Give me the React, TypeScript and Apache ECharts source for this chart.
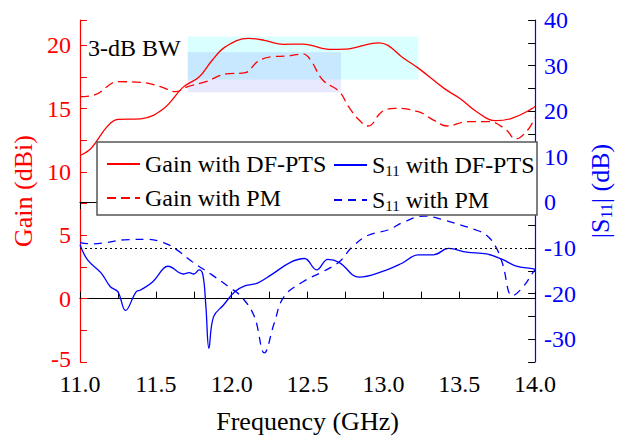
import React, { useEffect, useRef } from "react";
import * as echarts from "echarts";

const freqGainDF = [11.0, 11.075, 11.18, 11.25, 11.4, 11.55, 11.68, 11.785, 11.87, 11.96, 12.11, 12.215, 12.34, 12.47, 12.645, 12.75, 12.97, 13.03, 13.12, 13.23, 13.4, 13.505, 13.61, 13.74, 13.85, 13.98, 14.0];
const gainDF = [11.3, 11.9, 13.6, 14.15, 14.2, 15.0, 16.7, 17.5, 18.8, 19.9, 20.55, 20.4, 20.08, 20.1, 19.68, 19.7, 20.2, 20.0, 19.1, 18.2, 16.6, 15.8, 14.8, 14.05, 14.25, 15.0, 15.2];

const freqGainPM = [11.0, 11.1, 11.25, 11.4, 11.53, 11.63, 11.71, 11.83, 11.96, 12.09, 12.17, 12.26, 12.37, 12.47, 12.52, 12.6, 12.71, 12.77, 12.84, 12.9, 12.99, 13.075, 13.23, 13.33, 13.42, 13.55, 13.7, 13.81, 13.87, 13.95, 14.0];
const gainPM = [15.95, 16.1, 17.13, 17.08, 16.74, 16.34, 16.74, 17.13, 17.74, 17.84, 18.71, 19.1, 19.16, 19.32, 18.84, 17.26, 16.34, 15.16, 14.1, 13.63, 14.76, 15.03, 14.76, 14.1, 13.63, 13.97, 13.97, 13.32, 12.6, 13.3, 14.3];

const freqS11DF = [11.0, 11.05, 11.14, 11.2, 11.25, 11.3, 11.37, 11.4, 11.48, 11.55, 11.58, 11.68, 11.72, 11.75, 11.785, 11.81, 11.83, 11.85, 11.88, 11.946, 12.02, 12.086, 12.17, 12.26, 12.39, 12.48, 12.56, 12.634, 12.71, 12.84, 12.99, 13.12, 13.23, 13.33, 13.43, 13.55, 13.68, 13.785, 13.87, 13.99, 14.0];
const s11DF = [-9.3, -12.6, -15.5, -18.5, -19.6, -23.7, -19.6, -19.2, -17.4, -14.5, -14.0, -15.7, -15.4, -15.7, -14.8, -15.9, -22.9, -32.0, -25.1, -22.5, -19.6, -18.3, -17.7, -15.9, -13.1, -12.3, -14.8, -12.5, -13.2, -16.4, -15.2, -13.4, -11.5, -11.5, -10.1, -10.9, -11.3, -12.5, -13.9, -14.6, -14.7];

const freqS11PM = [11.0, 11.075, 11.18, 11.29, 11.44, 11.55, 11.634, 11.74, 11.87, 11.98, 12.065, 12.15, 12.215, 12.28, 12.344, 12.47, 12.6, 12.71, 12.796, 12.9, 13.03, 13.14, 13.27, 13.4, 13.61, 13.68, 13.74, 13.785, 13.85, 13.914, 13.99, 14.0];
const s11PM = [-8.8, -9.1, -8.8, -8.2, -8.1, -8.8, -10.3, -13.0, -15.9, -18.5, -20.7, -25.1, -33.0, -26.5, -20.7, -17.4, -15.2, -13.0, -9.7, -7.2, -6.05, -4.2, -3.0, -3.9, -6.05, -7.2, -9.7, -13.4, -20.5, -18.8, -15.2, -14.8];

// 3-dB bandwidth boxes: [fStart, fEnd, gainLow, gainHigh]
const bwDF = [11.71, 13.23, 17.3, 20.7];
const bwPM = [11.71, 12.72, 16.3, 19.45];
const s11Threshold = -10;

const seriesNames = ["Gain with DF-PTS", "Gain with PM", "S11 with DF-PTS", "S11 with PM"];

const zip = (xs: number[], ys: number[]) => xs.map((x, i) => [x, ys[i]]);

const FONT = "'Liberation Serif', 'Times New Roman', Times, serif";

export default function App() {
  const ref = useRef<HTMLDivElement>(null);
  useEffect(() => {
    if (!ref.current) return;
    const chart = echarts.init(ref.current, null, { renderer: "svg" });
    const legendText = {
      fontFamily: FONT,
      fontSize: 24,
      color: "#000",
      lineHeight: 26,
      rich: {
        sub: { fontFamily: FONT, fontSize: 15, color: "#000", verticalAlign: "bottom", lineHeight: 26, padding: [12, 0, 0, 0] },
      },
    };
    const fmt = (name: string) => (name.startsWith("S11") ? "S{sub|11}" + name.slice(3) : name);
    const legendBase = {
      orient: "vertical",
      top: 146,
      itemWidth: 33,
      itemHeight: 10,
      itemGap: 8,
      textStyle: legendText,
      formatter: fmt,
      selectedMode: false,
      itemStyle: { opacity: 0 },
      z: 20,
    };
    chart.setOption({
      animation: false,
      backgroundColor: "#fff",
      textStyle: { fontFamily: FONT },
      grid: { left: 80, right: 77, top: 20, bottom: 83 },
      xAxis: [
        {
          type: "value",
          min: 11,
          max: 14,
          interval: 0.25,
          position: "bottom",
          axisLine: { lineStyle: { color: "#000", width: 1.2 } },
          axisTick: { inside: true, length: 7, interval: 0, lineStyle: { color: "#000" } },
          splitLine: { show: false },
          axisLabel: {
            fontFamily: FONT,
            fontSize: 24,
            lineHeight: 24,
            color: "#000",
            margin: 10,
            formatter: (v: number) => (Math.abs(v * 2 - Math.round(v * 2)) < 1e-6 ? v.toFixed(1) : ""),
          },
          name: "Frequency (GHz)",
          nameLocation: "middle",
          nameGap: 46,
          nameTextStyle: { fontFamily: FONT, fontSize: 26, color: "#000" },
        },
        {
          type: "value",
          min: 11,
          max: 14,
          interval: 0.25,
          position: "top",
          axisLine: { show: true, lineStyle: { color: "#000", width: 1.2 } },
          axisTick: { inside: true, length: 7, interval: 0, lineStyle: { color: "#000" } },
          splitLine: { show: false },
          axisLabel: { show: false },
        },
      ],
      yAxis: [
        {
          type: "value",
          min: -5,
          max: 22,
          interval: 2.5,
          position: "left",
          axisLine: { show: true, lineStyle: { color: "#ff0000", width: 1.2 } },
          axisTick: { show: true, inside: true, length: 7, interval: 0, lineStyle: { color: "#ff0000" } },
          splitLine: { show: false },
          axisLabel: {
            fontFamily: FONT,
            fontSize: 24,
            lineHeight: 18,
            color: "#ff0000",
            margin: 9,
            formatter: (v: number) => {
              if (Math.abs(v / 5 - Math.round(v / 5)) > 1e-6) return "";
              return v === -5 ? "{lo|-5}" : String(v);
            },
            rich: { lo: { fontFamily: FONT, fontSize: 24, lineHeight: 18, color: "#ff0000", padding: [0, 0, 6, 0] } },
          },
          name: "Gain (dBi)",
          nameLocation: "middle",
          nameRotate: 90,
          nameGap: 38,
          nameTextStyle: { fontFamily: FONT, fontSize: 26, color: "#ff0000" },
        },
        {
          type: "value",
          min: -35,
          max: 40,
          interval: 5,
          position: "right",
          axisLine: { show: true, lineStyle: { color: "#0000ff", width: 1.2 } },
          axisTick: { show: true, inside: true, length: 7, interval: 0, lineStyle: { color: "#000" } },
          splitLine: { show: false },
          axisLabel: {
            fontFamily: FONT,
            fontSize: 24,
            lineHeight: 18,
            color: "#0000ff",
            margin: 9,
            formatter: (v: number) => (Math.abs(v / 10 - Math.round(v / 10)) < 1e-6 ? String(v) : ""),
          },
          name: "|S{sub|11}| (dB)",
          nameLocation: "middle",
          nameRotate: 90,
          nameGap: 50,
          nameTextStyle: {
            fontFamily: FONT,
            fontSize: 26,
            color: "#0000ff",
            rich: { sub: { fontFamily: FONT, fontSize: 16, color: "#0000ff", verticalAlign: "bottom", padding: [12, 0, 0, 0] } },
          },
        },
      ],
      legend: [
        { ...legendBase, data: [seriesNames[0], seriesNames[1]], left: 101 },
        { ...legendBase, data: [seriesNames[2], seriesNames[3]], left: 328 },
      ],
      graphic: [
        {
          type: "rect",
          z: 15,
          shape: { x: 97, y: 142, width: 440, height: 73 },
          style: { fill: "#fff", stroke: "#555", lineWidth: 1.5 },
        },
        {
          type: "text",
          z: 15,
          left: 88,
          top: 36,
          style: { text: "3-dB BW", fontFamily: FONT, fontSize: 24, fill: "#000" },
        },
      ],
      series: [
        {
          name: seriesNames[0],
          type: "line",
          data: zip(freqGainDF, gainDF),
          xAxisIndex: 0,
          yAxisIndex: 0,
          smooth: 0.4,
          symbol: "none",
          lineStyle: { color: "#ff0000", width: 1.3 },
          itemStyle: { color: "#ff0000" },
          markArea: {
            silent: true,
            itemStyle: { color: "rgba(0,255,255,0.15)" },
            data: [[{ xAxis: bwDF[0], yAxis: bwDF[2] }, { xAxis: bwDF[1], yAxis: bwDF[3] }]],
          },
        },
        {
          name: seriesNames[1],
          type: "line",
          data: zip(freqGainPM, gainPM),
          xAxisIndex: 0,
          yAxisIndex: 0,
          smooth: 0.4,
          symbol: "none",
          lineStyle: { color: "#ff0000", width: 1.3, type: [9, 5] },
          itemStyle: { color: "#ff0000" },
          markArea: {
            silent: true,
            itemStyle: { color: "rgba(80,80,255,0.13)" },
            data: [[{ xAxis: bwPM[0], yAxis: bwPM[2] }, { xAxis: bwPM[1], yAxis: bwPM[3] }]],
          },
        },
        {
          name: seriesNames[2],
          type: "line",
          data: zip(freqS11DF, s11DF),
          xAxisIndex: 0,
          yAxisIndex: 1,
          smooth: 0.4,
          symbol: "none",
          lineStyle: { color: "#0000ff", width: 1.3 },
          itemStyle: { color: "#0000ff" },
          markLine: {
            silent: true,
            symbol: "none",
            label: { show: false },
            lineStyle: { color: "#000", type: [2, 3], width: 1.2 },
            data: [{ yAxis: s11Threshold }],
          },
        },
        {
          name: seriesNames[3],
          type: "line",
          data: zip(freqS11PM, s11PM),
          xAxisIndex: 0,
          yAxisIndex: 1,
          smooth: 0.4,
          symbol: "none",
          lineStyle: { color: "#0000ff", width: 1.3, type: [8, 6] },
          itemStyle: { color: "#0000ff" },
        },
      ],
    });
    return () => chart.dispose();
  }, []);
  return <div ref={ref} style={{ width: 622, height: 445, position: "absolute", left: 0, top: 0 }} />;
}
